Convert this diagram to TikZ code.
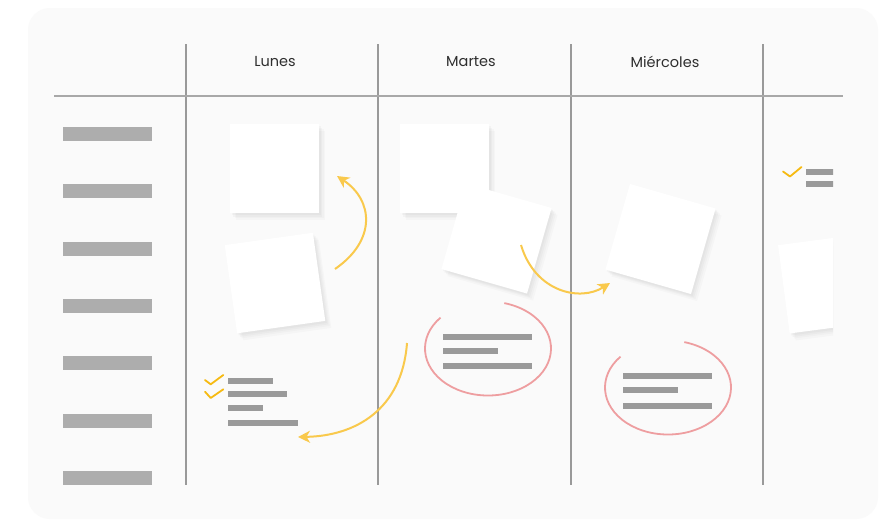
\documentclass[tikz,border=0pt]{standalone}
\usepackage{fontspec}
\setmainfont{Poppins}
\usetikzlibrary{shadows,arrows.meta}

\definecolor{cardbg}{HTML}{FAFAFA}
\definecolor{gridline}{HTML}{999999}
\definecolor{rowbar}{HTML}{ADADAD}
\definecolor{textbar}{HTML}{9A9A9A}
\definecolor{arrowyellow}{HTML}{F9C94C}
\definecolor{checkyellow}{HTML}{F6BA12}
\definecolor{circlered}{HTML}{EE9EA0}
\definecolor{headtext}{HTML}{2E2E2E}

\begin{document}
\begin{tikzpicture}[x=1pt, y=-1pt,
  sticky/.style={fill=white, minimum size=89pt, inner sep=0pt,
    drop shadow={opacity=0.04, shadow xshift=6pt, shadow yshift=-7pt},
    drop shadow={opacity=0.04, shadow xshift=4.5pt, shadow yshift=-5pt},
    drop shadow={opacity=0.05, shadow xshift=3pt, shadow yshift=-3.5pt},
    drop shadow={opacity=0.05, shadow xshift=1.5pt, shadow yshift=-2pt}},
  rowlabel/.style={fill=rowbar, minimum width=89pt, minimum height=14pt, inner sep=0pt},
  dayname/.style={text=headtext, font=\fontsize{14.5}{16}\selectfont},
  movearrow/.style={arrowyellow, line width=2pt, -{Stealth[length=12pt,width=12pt,inset=3.5pt]}},
  tick/.style={checkyellow, line width=1.8pt, line cap=round, line join=round},
  ring/.style={circlered, line width=1.8pt}]
  \useasboundingbox (0,0) rectangle (886,520);
  \fill[white] (0,0) rectangle (886,520);
  \fill[cardbg, rounded corners=22pt] (28,8) rectangle (878,519);

  % grid
  \foreach \x in {186,378,571,763}
    \draw[gridline, line width=1.2pt] (\x,44) -- (\x,485);
  \draw[gridline!85, line width=1.6pt] (54,96) -- (843,96);

  % days
  \node[dayname] (lunes) at (275,62) {Lunes};
  \node[dayname] (martes) at (471,62) {Martes};
  \node[dayname] (miercoles) at (665,62) {Miércoles};

  % row labels
  \foreach \i in {0,...,6}
    \node[rowlabel] (row\i) at (107.5,{134+57.3*\i}) {};

  % sticky notes
  \node[sticky] (n1) at (274.5,168.5) {};
  \node[sticky, rotate=8] (n2) at (275,283) {};
  \node[sticky] (n3) at (444.5,168.5) {};
  \node[sticky, rotate=-16] (n4) at (496.5,238.5) {};
  \node[sticky, rotate=-16] (n5) at (660.5,239) {};
  \begin{scope}
    \clip (765,100) rectangle (833,500);
    \node[sticky, rotate=7.5] (n6) at (828,283.5) {};
    % done item
    \draw[tick] (783,171.5) -- (790,176.5) -- (801.5,167);
    \fill[textbar] (806,169) rectangle (840,175);
    \fill[textbar] (806,181) rectangle (840,187);
  \end{scope}

  % arrows
  \coordinate (a1s) at (335,269);
  \coordinate (a1e) at (337,176);
  \draw[movearrow] (a1s) .. controls (377,240) and (373,200) .. (a1e);
  \coordinate (a2s) at (521,245);
  \coordinate (a2e) at (610,283);
  \draw[movearrow] (a2s) .. controls (535,292) and (580,302) .. (a2e);
  \coordinate (a3s) at (407,343);
  \coordinate (a3e) at (298,437);
  \draw[movearrow] (a3s) .. controls (402,410) and (355,436) .. (a3e);

  % circled notes
  \coordinate (e1) at (488,348.5);
  \draw[ring] (e1) ++(-139:63 and 47) arc[start angle=-139, end angle=-435, x radius=63, y radius=47];
  \fill[textbar] (442.5,334) rectangle (532,340);
  \fill[textbar] (442.5,348) rectangle (497.5,354);
  \fill[textbar] (442.5,362.5) rectangle (532,368.5);
  \coordinate (e2) at (668,387.5);
  \draw[ring] (e2) ++(-139:63 and 47) arc[start angle=-139, end angle=-435, x radius=63, y radius=47];
  \fill[textbar] (622.5,372.5) rectangle (711.5,378.5);
  \fill[textbar] (622.5,386.5) rectangle (677.5,392.5);
  \fill[textbar] (622.5,402.5) rectangle (711.5,408.5);

  % checklist
  \draw[tick] (205,380) -- (210.7,384.3) -- (223.3,375);
  \draw[tick] (205,391.7) -- (210.7,398) -- (223.3,389.3);
  \fill[textbar] (227.5,378.3) rectangle (272.5,384);
  \fill[textbar] (227.5,391) rectangle (286.5,396.7);
  \fill[textbar] (227.5,405) rectangle (262.5,410.7);
  \fill[textbar] (227.5,420) rectangle (297.5,426);
\end{tikzpicture}
\end{document}
